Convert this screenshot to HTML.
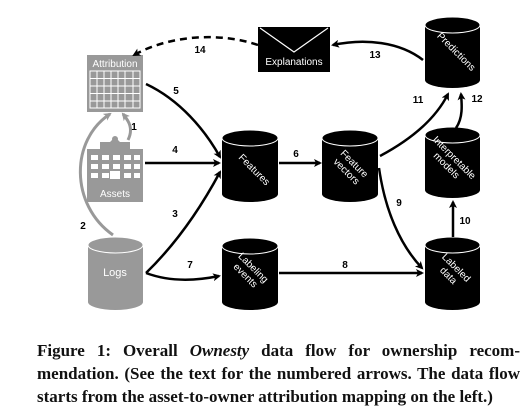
<!DOCTYPE html>
<html><head><style>
body{margin:0;background:#fff;width:530px;height:414px;overflow:hidden}
.cap{position:absolute;left:37px;width:483px;font-family:"Liberation Serif",serif;font-weight:bold;font-size:17px;line-height:23px;color:#111;white-space:nowrap}
.j{text-align:justify;text-align-last:justify;white-space:normal}
</style></head><body>
<svg width="530" height="414" style="position:absolute;left:0;top:0" font-family="Liberation Sans, sans-serif">
<defs>
<marker id="a" markerWidth="8" markerHeight="8" refX="6" refY="4" orient="auto" markerUnits="userSpaceOnUse" viewBox="0 0 8 8"><path d="M0,0 L8,4 L0,8 L2,4z" fill="#000"/></marker>
<marker id="g" markerWidth="8" markerHeight="8" refX="6" refY="4" orient="auto" markerUnits="userSpaceOnUse" viewBox="0 0 8 8"><path d="M0,0 L8,4 L0,8 L2,4z" fill="#999"/></marker>
</defs>
<rect x="87" y="55" width="56" height="57" fill="#999"/>
<text x="115" y="67" fill="#fff" font-size="10" text-anchor="middle">Attribution</text>
<g stroke="#fff" stroke-width="1" fill="none">
<rect x="90" y="71" width="50" height="37"/>
<path d="M97,71V108M104,71V108M111,71V108M118,71V108M125,71V108M133,71V108M90,78.5H140M90,86H140M90,93.5H140M90,101H140"/>
</g>
<path d="M100,149 V142 H110 L115,137 L120,142 H130 V149z" fill="#999"/>
<circle cx="115" cy="139" r="3" fill="#999"/>
<rect x="87" y="149" width="56" height="53" fill="#999"/>
<g fill="#fff">
<rect x="91" y="155" width="7" height="5"/><rect x="102" y="155" width="7" height="5"/><rect x="113" y="155" width="7" height="5"/><rect x="124" y="155" width="7" height="5"/><rect x="134" y="155" width="6" height="5"/>
<rect x="91" y="164" width="7" height="5"/><rect x="102" y="164" width="7" height="5"/><rect x="113" y="164" width="7" height="5"/><rect x="124" y="164" width="7" height="5"/><rect x="134" y="164" width="6" height="5"/>
<rect x="91" y="173" width="7" height="5"/><rect x="102" y="173" width="7" height="5"/><rect x="110" y="171" width="10" height="8"/><rect x="124" y="173" width="7" height="5"/><rect x="134" y="173" width="6" height="5"/>
</g>
<text x="115" y="197" fill="#fff" font-size="10" text-anchor="middle">Assets</text>
<rect x="258" y="27" width="72" height="45" fill="#000"/>
<path d="M260,28 L294,52 L328,28" stroke="#fff" stroke-width="1.2" fill="none"/>
<text x="294" y="65" fill="#fff" font-size="10" text-anchor="middle">Explanations</text>
<g fill="#999"><path d="M88,245 V302 A27.5,8 0 0 0 143,302 V245z"/><ellipse cx="115.5" cy="245" rx="27.5" ry="8" stroke="#fff" stroke-width="1"/></g>
<text x="115" y="276" fill="#fff" font-size="11" text-anchor="middle">Logs</text>
<g fill="#000">
<path d="M222,138 V194 A28,8 0 0 0 278,194 V138z"/><ellipse cx="250" cy="138" rx="28" ry="8" stroke="#fff"/>
<path d="M222,246 V302 A28,8 0 0 0 278,302 V246z"/><ellipse cx="250" cy="246" rx="28" ry="8" stroke="#fff"/>
<path d="M322,138 V194 A28,8 0 0 0 378,194 V138z"/><ellipse cx="350" cy="138" rx="28" ry="8" stroke="#fff"/>
<path d="M425,25 V80 A27.5,8 0 0 0 480,80 V25z"/><ellipse cx="452.5" cy="25" rx="27.5" ry="8" stroke="#fff"/>
<path d="M425,135 V190 A27.5,8 0 0 0 480,190 V135z"/><ellipse cx="452.5" cy="135" rx="27.5" ry="8" stroke="#fff"/>
<path d="M425,245 V302 A27.5,8 0 0 0 480,302 V245z"/><ellipse cx="452.5" cy="245" rx="27.5" ry="8" stroke="#fff"/>
</g>
<g fill="#fff" font-size="10" text-anchor="middle">
<text transform="translate(252,172) rotate(45)">Features</text>
<text transform="translate(251,270) rotate(45)"><tspan x="0" y="0">Labeling</tspan><tspan x="0" y="11">events</tspan></text>
<text transform="translate(352,166) rotate(45)"><tspan x="0" y="0">Feature</tspan><tspan x="0" y="11">vectors</tspan></text>
<text transform="translate(454,54) rotate(45)">Predictions</text>
<text transform="translate(452,160) rotate(45)"><tspan x="0" y="0">Interpretable</tspan><tspan x="0" y="11">models</tspan></text>
<text transform="translate(454,270) rotate(45)"><tspan x="0" y="0">Labeled</tspan><tspan x="0" y="11">data</tspan></text>
</g>
<g stroke="#999" stroke-width="3" fill="none">
<path d="M128,140 C134,128 128,120 123,114" marker-end="url(#g)"/>
<path d="M113,235 C70,205 70,140 110,114" marker-end="url(#g)"/>
</g>
<g stroke="#000" stroke-width="2.5" fill="none" marker-end="url(#a)">
<path d="M146,84 C180,100 205,130 220,157"/>
<path d="M145,163 H219"/>
<path d="M146,273 C180,240 205,200 220,172"/>
<path d="M146,273 C170,282 195,281 219,276"/>
<path d="M279,163 H320"/>
<path d="M279,273 H422"/>
<path d="M379,168 C385,210 400,245 422,268"/>
<path d="M453,237 V202"/>
<path d="M380,156 C410,140 435,120 448,94"/>
<path d="M456,128 C463,118 462,105 461,94"/>
<path d="M423,60 C400,42 365,38 333,45"/>
</g>
<path d="M258,45 C220,32 170,35 134,55" stroke="#000" stroke-width="2.5" fill="none" stroke-dasharray="7,5" marker-end="url(#a)"/>
<g font-size="10" font-weight="bold" fill="#000" text-anchor="middle">
<text x="134" y="130">1</text><text x="83" y="229">2</text><text x="175" y="217">3</text><text x="175" y="153">4</text><text x="176" y="94">5</text>
<text x="296" y="157">6</text><text x="190" y="268">7</text><text x="345" y="268">8</text><text x="399" y="206">9</text>
<text x="465" y="224">10</text><text x="418" y="103">11</text><text x="477" y="102">12</text><text x="375" y="58">13</text><text x="200" y="53">14</text>
</g>
</svg>
<div class="cap j" style="top:339px">Figure 1: Overall <i>Ownesty</i> data flow for ownership recom-</div>
<div class="cap j" style="top:362px">mendation. (See the text for the numbered arrows. The data flow</div>
<div class="cap" style="top:385px">starts from the asset-to-owner attribution mapping on the left.)</div>
</body></html>
